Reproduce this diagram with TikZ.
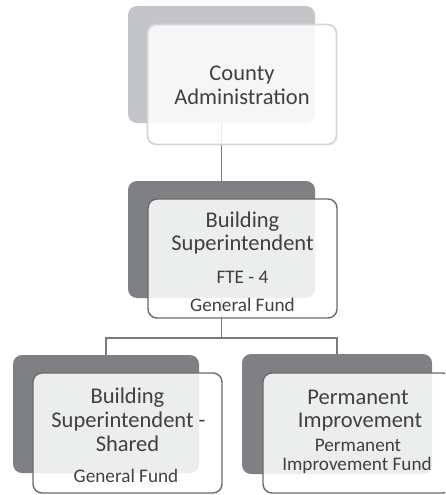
\documentclass[tikz,border=0pt]{standalone}
\usepackage{fontspec}
\setmainfont{Carlito}
\definecolor{txt}{HTML}{404040}
\definecolor{backlight}{HTML}{C4C5C9}
\definecolor{backdark}{HTML}{7F8084}
\definecolor{frontline}{HTML}{6A6A6A}
\definecolor{frontlightline}{HTML}{D6D6D6}
\definecolor{connline}{HTML}{7A7A7A}
\begin{document}
\begin{tikzpicture}[x=1pt,y=-1pt,
  backbox/.style={rectangle, rounded corners=9pt, inner sep=0pt, outer sep=0pt, draw=none},
  frontbox/.style={rectangle, rounded corners=9pt, inner sep=0pt, outer sep=0pt,
     fill=white, fill opacity=0.86, draw=frontline, draw opacity=1, line width=1.4pt,
     minimum width=189pt, minimum height=120pt},
  big/.style={anchor=base, text=txt, inner sep=0pt, font=\fontsize{22.5}{23}\selectfont},
  small/.style={anchor=base, text=txt, inner sep=0pt, font=\fontsize{19.2}{20}\selectfont},
  conn/.style={draw=connline, line width=1.3pt}]
\useasboundingbox (0,0) rectangle (445,495);
\clip (0,0) rectangle (445,495);

% back boxes
\node[backbox, fill=backlight, minimum width=187pt, minimum height=117pt] (topback) at (221.5,64.5) {};
\node[backbox, fill=backdark, minimum width=187pt, minimum height=117pt] (midback) at (221.5,239.5) {};
\node[backbox, fill=backdark, minimum width=186pt, minimum height=118pt] (blback) at (106,414) {};
\node[backbox, fill=backdark, minimum width=190pt, minimum height=120pt] (brback) at (337,414) {};

% connectors
\coordinate (hub) at (221.5,338);
\draw[conn] (topback.south) -- (midback.north);
\draw[conn] (midback.south) -- (hub) -| (blback.north);
\draw[conn] (hub) -| (brback.north);

% front boxes
\node[frontbox, draw=frontlightline, line width=1.8pt, minimum width=189pt, minimum height=120pt] (topfront) at (242,84.5) {};
\node[frontbox, minimum height=119pt] (midfront) at (242.5,258.5) {};
\node[frontbox] (blfront) at (127.5,433) {};
\node[frontbox] (brfront) at (357.5,433) {};

% texts
\node[big] (t1a) at (242,81) {County};
\node[big] (t1b) at (242,104) {Administration};

\node[big] (t2a) at (242.5,227) {Building};
\node[big] (t2b) at (242.5,250) {Superintendent};
\node[small] (t2c) at (242.5,283) {FTE - 4};
\node[small] (t2d) at (242.5,311) {General Fund};

\node[big] (t3a) at (127.5,403) {Building};
\node[big] (t3b) at (128.5,427) {Superintendent -};
\node[big] (t3c) at (127.5,451) {Shared};
\node[small] (t3d) at (126,482) {General Fund};

\node[big] (t4a) at (358,404) {Permanent};
\node[big] (t4b) at (360,427) {Improvement};
\node[small] (t4c) at (358,451) {Permanent};
\node[small] (t4d) at (357,470) {Improvement Fund};
\end{tikzpicture}
\end{document}
